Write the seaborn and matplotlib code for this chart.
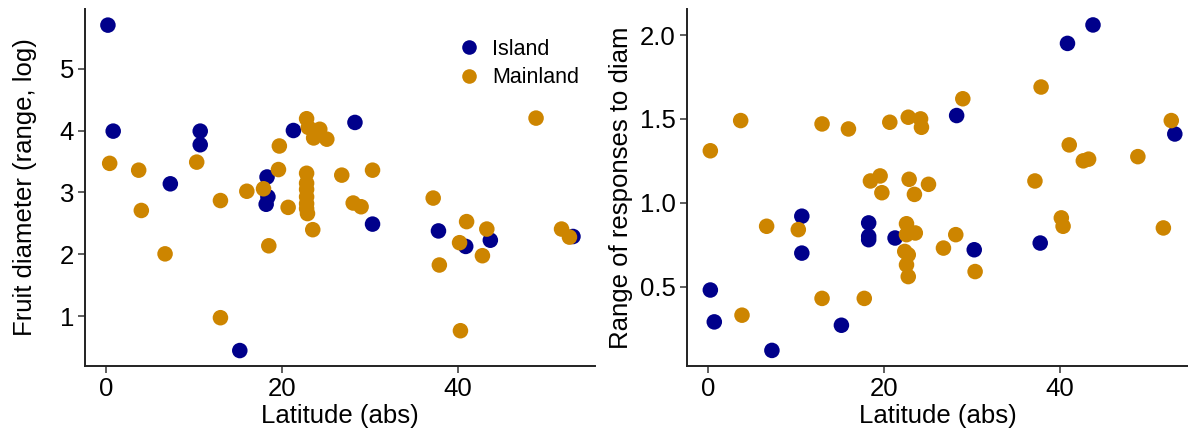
import matplotlib
matplotlib.use("Agg")
import matplotlib.pyplot as plt
from matplotlib.lines import Line2D
import seaborn as sns
import pandas as pd

# left panel: fruit diameter (range, log) vs absolute latitude
fruit_island_lat = [0.2, 0.8, 7.3, 10.7, 10.7, 15.2, 18.3, 18.4, 18.2, 21.3,
                    28.3, 30.3, 37.8, 40.9, 43.7, 53.1]
fruit_island_val = [5.70, 3.99, 3.14, 3.99, 3.77, 0.45, 3.25, 2.93, 2.81, 4.00,
                    4.13, 2.49, 2.38, 2.13, 2.23, 2.29]
fruit_main_lat = [0.4, 3.7, 4.0, 6.7, 10.3, 13.0, 13.0, 16.0, 17.9, 18.5,
                  19.6, 19.7, 20.7, 22.8, 23.0, 24.3, 23.6, 25.1, 22.8, 22.8,
                  22.8, 22.8, 22.8, 22.8, 22.9, 23.5, 26.8, 28.1, 29.0, 30.3,
                  37.2, 37.9, 40.2, 40.3, 41.0, 42.8, 43.3, 48.9, 51.8, 52.7]
fruit_main_val = [3.47, 3.36, 2.71, 2.01, 3.49, 2.87, 0.98, 3.02, 3.06, 2.14,
                  3.37, 3.75, 2.76, 4.19, 4.05, 4.02, 3.88, 3.86, 3.31, 3.15,
                  3.05, 2.93, 2.82, 2.74, 2.66, 2.40, 3.28, 2.83, 2.77, 3.36,
                  2.91, 1.83, 2.19, 0.77, 2.53, 1.98, 2.41, 4.20, 2.41, 2.28]

# right panel: range of responses to diameter vs absolute latitude
resp_island_lat = [0.3, 0.75, 7.3, 10.7, 10.7, 15.2, 18.3, 18.3, 18.3, 21.3,
                   28.3, 30.3, 37.8, 40.9, 43.8, 53.1]
resp_island_val = [0.48, 0.29, 0.12, 0.92, 0.70, 0.27, 0.88, 0.80, 0.78, 0.79,
                   1.52, 0.72, 0.76, 1.95, 2.06, 1.41]
resp_main_lat = [0.3, 3.75, 3.9, 6.7, 10.3, 13.0, 13.0, 16.0, 17.8, 18.5,
                 19.6, 19.8, 20.7, 22.8, 24.2, 24.3, 22.9, 25.1, 23.5, 22.6,
                 23.6, 22.6, 22.4, 22.8, 22.6, 22.8, 26.8, 28.2, 29.0, 30.4,
                 37.2, 37.9, 40.2, 40.4, 41.1, 42.7, 43.3, 48.9, 51.8, 52.7]
resp_main_val = [1.31, 1.49, 0.33, 0.86, 0.84, 1.47, 0.43, 1.44, 0.43, 1.13,
                 1.16, 1.06, 1.48, 1.51, 1.50, 1.45, 1.14, 1.11, 1.05, 0.875,
                 0.82, 0.81, 0.71, 0.69, 0.63, 0.56, 0.73, 0.81, 1.62, 0.59,
                 1.13, 1.69, 0.91, 0.86, 1.345, 1.25, 1.26, 1.275, 0.85, 1.49]

groups = ["Island", "Mainland"]
colors = {"Island": "#00008B", "Mainland": "#CD8500"}


def make_df(isl_lat, isl_val, main_lat, main_val):
    return pd.DataFrame({
        "lat": isl_lat + main_lat,
        "val": isl_val + main_val,
        "type": ["Island"] * len(isl_lat) + ["Mainland"] * len(main_lat),
    })


fruit_df = make_df(fruit_island_lat, fruit_island_val, fruit_main_lat, fruit_main_val)
resp_df = make_df(resp_island_lat, resp_island_val, resp_main_lat, resp_main_val)

sns.set_style("ticks")
plt.rcParams["font.family"] = ["Liberation Sans", "DejaVu Sans"]
plt.rcParams["text.color"] = "black"
plt.rcParams["axes.labelcolor"] = "black"

fig = plt.figure(figsize=(11.88, 4.29), dpi=100)
ax1 = fig.add_axes([0.0716, 0.1476, 0.4292, 0.8314])
ax2 = fig.add_axes([0.5783, 0.1476, 0.4217, 0.8314])

for ax, df in [(ax1, fruit_df), (ax2, resp_df)]:
    sns.scatterplot(data=df, x="lat", y="val", hue="type", hue_order=groups,
                    palette=colors, s=125, linewidth=0, alpha=1,
                    legend=False, ax=ax)
    ax.set_xticks([0, 20, 40])
    ax.tick_params(axis="both", labelsize=18.5, length=5, width=1.1,
                   color="#333333", labelcolor="black", pad=3)
    for side in ["left", "bottom"]:
        ax.spines[side].set_linewidth(1.4)
        ax.spines[side].set_color("#222222")
    sns.despine(ax=ax)
    ax.set_xlabel("Latitude (abs)", fontsize=18.5, labelpad=2)

ax1.set_xlim(-2.4, 55.6)
ax1.set_ylim(0.206, 5.96)
ax1.set_yticks([1, 2, 3, 4, 5])
ax1.set_ylabel("Fruit diameter (range, log)", fontsize=18.5, labelpad=16)

ax2.set_xlim(-2.35, 54.6)
ax2.set_ylim(0.029, 2.155)
ax2.set_yticks([0.5, 1.0, 1.5, 2.0])
ax2.set_yticklabels(["0.5", "1.0", "1.5", "2.0"])
ax2.set_ylabel("Range of responses to diam", fontsize=18.5, labelpad=5)

handles = [Line2D([], [], marker="o", linestyle="", markersize=10.5,
                  markerfacecolor=colors[g], markeredgewidth=0, label=g)
           for g in groups]
ax1.legend(handles=handles, loc="upper left", bbox_to_anchor=(0.71, 0.94),
           frameon=False, fontsize=15.5, handletextpad=0.5, labelspacing=0.33,
           borderaxespad=0, handlelength=1.2)

fig.savefig("out.png", dpi=100)
